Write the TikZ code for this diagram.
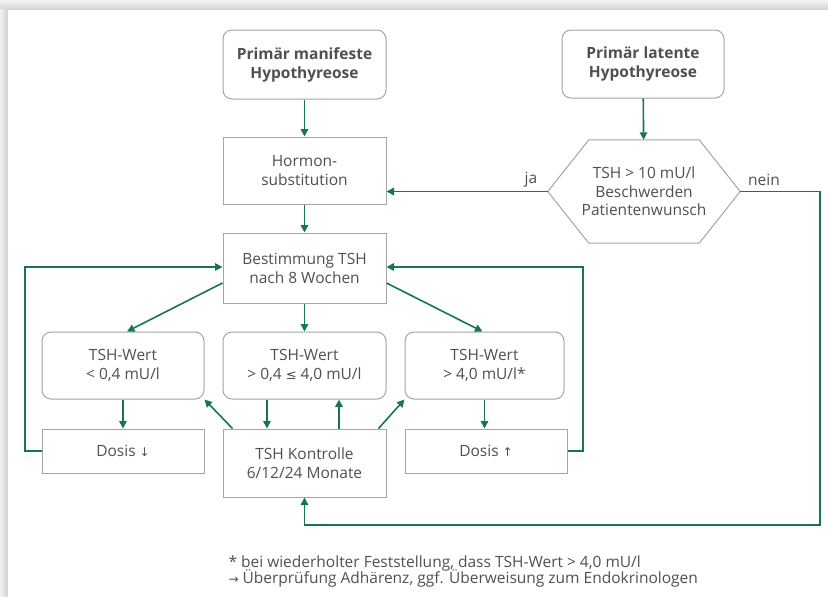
\documentclass[tikz,border=0pt]{standalone}
\usepackage{fontspec}
\setmainfont{Open Sans}
\newfontfamily\symbfont{DejaVu Sans}
\usetikzlibrary{arrows.meta}
\definecolor{tshgreen}{RGB}{22,118,84}
\definecolor{boxgray}{RGB}{165,165,165}
\definecolor{txtgray}{RGB}{80,80,80}
\tikzset{>={Triangle[length=7.5pt,width=7.5pt]}}
\tikzset{
    box/.style={draw=boxgray, line width=1pt, text=txtgray, align=center, inner sep=2pt, font=\fontsize{15.5}{19}\selectfont},
    roundbox/.style={box, rounded corners=9pt},
    titlebox/.style={roundbox, font=\fontsize{15.5}{19}\selectfont\bfseries},
    flow/.style={draw=tshgreen, line width=1.6pt},
    lbl/.style={text=txtgray, font=\fontsize{15.5}{16}\selectfont},
}

\begin{document}
\begin{tikzpicture}[x=1pt,y=-1pt]
	\useasboundingbox (0,0) rectangle (828,597);
	\fill[white] (0,0) rectangle (828,597);
	% page shadow
	\shade[top color=black!5, bottom color=black!17] (0,0) rectangle (828,9.5);
	\shade[left color=black!5, right color=black!18] (0,9.5) rectangle (7.5,597);
	
	\node[titlebox, minimum width=163, minimum height=69] (manifest) at (304.5,64.5) {Primär manifeste\\Hypothyreose};
	\node[titlebox, minimum width=162, minimum height=68] (latent) at (643,64) {Primär latente\\Hypothyreose};
	\node[box, minimum width=163, minimum height=67] (hormon) at (304.5,170.5) {Hormon-\\substitution};
	\node[lbl, align=center, font=\fontsize{15.5}{18.5}\selectfont, minimum width=192, minimum height=103] (check) at (644,191.5) {TSH > 10 mU/l\\Beschwerden\\Patientenwunsch};
	\draw[boxgray, line width=1pt] (check.west) -- ([xshift=41]check.north west) -- ([xshift=-41]check.north east)
		-- (check.east) -- ([xshift=-41]check.south east) -- ([xshift=41]check.south west) -- cycle;
	\node[lbl] (ja) at (531,180) {ja};
	\node[lbl] (nein) at (764,180) {nein};
	\node[box, minimum width=163, minimum height=70] (best) at (304.5,268) {Bestimmung TSH\\nach 8 Wochen};
	
	\node[roundbox, minimum width=162, minimum height=67] (low) at (123,365.5) {TSH-Wert\\< 0,4 mU/l};
	\node[roundbox, minimum width=163, minimum height=67] (normal) at (304.5,365.5) {TSH-Wert\\> 0,4 {\symbfont\fontsize{13}{13}\selectfont ≤} 4,0 mU/l};
	\node[roundbox, minimum width=159, minimum height=67] (high) at (484.5,365.5) {TSH-Wert\\> 4,0 mU/l*};
	\node[box, minimum width=162, minimum height=44] (dosisdown) at (123,451) {Dosis {\symbfont\fontsize{12}{12}\selectfont ↓}};
	\node[box, minimum width=163, minimum height=68] (kontrolle) at (304.5,463) {TSH Kontrolle\\6/12/24 Monate};
	\node[box, minimum width=162, minimum height=44] (dosisup) at (486,451) {Dosis {\symbfont\fontsize{12}{12}\selectfont ↑}};
	
	\coordinate (loopL) at (25,267);
	\coordinate (loopR) at (583,267);
	\coordinate (neinC) at (820,525);
	
	\draw[flow,->] (manifest) -- (hormon);
	\draw[flow,->] (latent) -- (check);
	\draw[flow,->] (check.west) -- (check.west -| hormon.east);
	\draw[flow,->] (check.east) -| (neinC) -| (kontrolle.south);
	\draw[flow,->] (hormon) -- (best);
	\draw[flow,->] (dosisdown.west) -| (loopL) -- (loopL -| best.west);
	\draw[flow,->] (dosisup.east) -| (loopR) -- (loopR -| best.east);
	\draw[flow,->] ([yshift=-15]best.west) -- ([xshift=4]low.north);
	\draw[flow,->] (best) -- (normal);
	\draw[flow,->] ([yshift=-15]best.east) -- ([xshift=-2]high.north);
	\draw[flow,->] (low) -- (dosisdown);
	\draw[flow,->] (high.south) -- (high.south |- dosisup.north);
	\draw[flow,->] ([xshift=10]kontrolle.north west) -- (low.south east);
	\draw[flow,->] ([xshift=-37.5]normal.south) -- ([xshift=-37.5]kontrolle.north);
	\draw[flow,->] ([xshift=34.5]kontrolle.north) -- ([xshift=34.5]normal.south);
	\draw[flow,->] ([xshift=-8]kontrolle.north east) -- (high.south west);
	
	\node[lbl, anchor=base west] (note) at (225,567) {* bei wiederholter Feststellung, dass TSH-Wert > 4,0 mU/l};
	\node[lbl, anchor=base west] (note2) at (225,583) {{\symbfont\fontsize{12}{12}\selectfont →} Überprüfung Adhärenz, ggf. Überweisung zum Endokrinologen};
\end{tikzpicture}
\end{document}
